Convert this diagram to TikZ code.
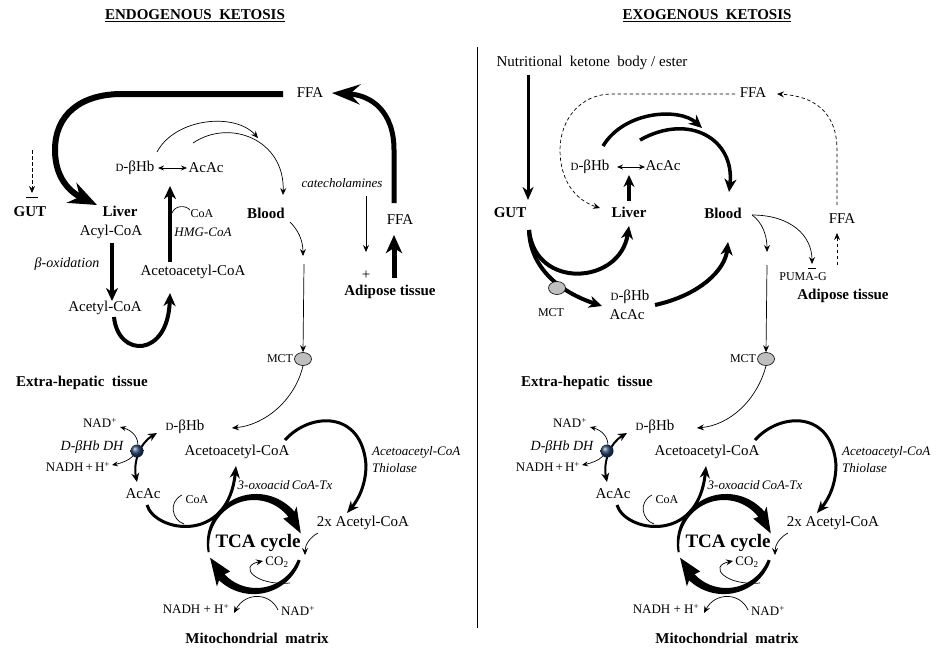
\documentclass[tikz,border=0pt]{standalone}
\usepackage{fontspec}
\setmainfont{Liberation Serif}
\usetikzlibrary{arrows.meta,shapes.geometric}
\newcommand{\myfs}[1]{\fontsize{#1}{#1}\selectfont}
\newcommand{\dbhb}{{\myfs{11}D}-βHb}
\definecolor{ballc}{RGB}{35,65,105}
\tikzset{
 tx/.style={inner sep=0pt, font=\myfs{15}},
 bx/.style={inner sep=0pt, font=\myfs{15}\bfseries},
 sm/.style={inner sep=0pt, font=\myfs{12}},
 sn/.style={inner sep=0pt, font=\myfs{13}},
 itx/.style={inner sep=0pt, font=\myfs{13}\itshape},
 thinar/.style={line width=0.7pt, -{Stealth[length=7pt,width=6pt,inset=2.5pt]}},
 dblar/.style={line width=0.7pt, {Stealth[length=6pt,width=5pt,inset=2pt]}-{Stealth[length=6pt,width=5pt,inset=2pt]}},
 dsh/.style={line width=0.7pt, dash pattern=on 3.5pt off 2.5pt, -{Stealth[length=7pt,width=6pt,inset=2.5pt]}},
 medar/.style={line width=3pt, -{Stealth[length=13pt,width=11pt,inset=4pt]}},
 bigar/.style={line width=4pt, -{Stealth[length=16pt,width=14pt,inset=5pt]}},
 mctball/.style={ellipse, draw, fill=gray!50, minimum width=17pt, minimum height=13pt, inner sep=0pt, line width=0.6pt},
}
% tapered arc round the TCA centre: t0, head base, tip, w0, w1, half head width, body end
\newcommand{\taparc}[7]{%
 \fill plot[smooth,samples=40,domain=#1:#7] ({255+(47+(#4+(#5-#4)*(\x-#1)/(#2-#1))/2)*cos(\x)},{544+(47+(#4+(#5-#4)*(\x-#1)/(#2-#1))/2)*sin(\x)})
   -- plot[smooth,samples=40,domain=#7:#1] ({255+(47-(#4+(#5-#4)*(\x-#1)/(#2-#1))/2)*cos(\x)},{544+(47-(#4+(#5-#4)*(\x-#1)/(#2-#1))/2)*sin(\x)}) -- cycle;
 \fill ({255+(47+#6)*cos(#2)},{544+(47+#6)*sin(#2)}) -- ({255+47*cos(#3)},{544+47*sin(#3)}) -- ({255+(47-#6)*cos(#2)},{544+(47-#6)*sin(#2)}) -- ({255+47*cos(#2+5)},{544+47*sin(#2+5)}) -- cycle;
}
\newcommand{\mitosec}[1]{%
 \node[sn] (#1nadA) at (100,423) {NAD\textsuperscript{+}};
 \node[tx] (#1bhb) at (185,427) {\dbhb};
 \node[inner sep=0pt,font=\myfs{14}\itshape] (#1dh) at (92,447) {D-βHb DH};
 \node[sn] (#1nadhA) at (78,467) {NADH\,+\,H\textsuperscript{+}};
 \node[tx] (#1aacoa) at (237,452) {Acetoacetyl-CoA};
 \node[itx,anchor=west] (#1thA) at (372,452) {Acetoacetyl-CoA};
 \node[itx,anchor=west] (#1thB) at (372,468) {Thiolase};
 \node[tx] (#1acac) at (143,494) {AcAc};
 \node[itx] (#1oxo) at (285,485) {3-oxoacid\,CoA-Tx};
 \node[sm] (#1coa) at (197,500) {CoA};
 \node[tx] (#1twox) at (363,523) {2x Acetyl-CoA};
 \node[inner sep=0pt,font=\myfs{19}\bfseries] (#1tca) at (258,543) {TCA cycle};
 \node[sn] (#1co2) at (277,562) {CO\textsubscript{2}};
 \node[sn] (#1nadhB) at (196,609) {NADH + H\textsuperscript{+}};
 \node[sn] (#1nadB) at (298,611) {NAD\textsuperscript{+}};
 \node[bx] (#1mito) at (257,638) {Mitochondrial\ \ matrix};
 \coordinate (#1a1) at (157,433); \coordinate (#1a2) at (137,482);
 \draw[line width=2pt, {Stealth[length=9pt,width=8pt,inset=3pt]}-{Stealth[length=9pt,width=8pt,inset=3pt]}] (#1a1) .. controls (140,443) and (133,462) .. (#1a2);
 \coordinate (#1b1) at (120,427); \coordinate (#1b2) at (112,465);
 \draw[dblar] (#1b1) .. controls (142,433) and (146,458) .. (#1b2);
 \coordinate (#1ball) at (137,451);
 \shade[ball color=ballc] (#1ball) circle (6.5);
 \coordinate (#1c1) at (147,505); \coordinate (#1c2) at (236,466);
 \draw[line width=3pt, -{Stealth[length=12pt,width=10pt,inset=4pt]}] (#1c1) .. controls (155,532) and (228,545) .. (#1c2);
 \coordinate (#1d1) at (182,495); \coordinate (#1d2) at (184,524);
 \draw[line width=0.7pt] (#1d1) .. controls (168,502) and (172,520) .. (#1d2);
 \coordinate (#1e1) at (285,440); \coordinate (#1e2) at (347,513);
 \draw[line width=3pt, -{Stealth[length=12pt,width=10pt,inset=4pt]}] (#1e1) .. controls (310,412) and (362,410) .. (366,465) .. controls (366,485) and (358,500) .. (#1e2);
 \coordinate (#1f1) at (318,533); \coordinate (#1f2) at (305,555);
 \draw[thinar] (#1f1) .. controls (310,537) and (305,545) .. (#1f2);
 \coordinate (#1g1) at (290,583); \coordinate (#1g2) at (263,561);
 \draw[thinar] (#1g1) .. controls (255,586) and (238,566) .. (#1g2);
 \coordinate (#1h1) at (278,610); \coordinate (#1h2) at (234,613);
 \draw[thinar] (#1h1) .. controls (270,592) and (245,592) .. (#1h2);
 \taparc{170}{318}{347}{2}{8}{9}{324}
 \taparc{20}{132}{163}{3}{8}{10}{138}
}
\begin{document}
\begin{tikzpicture}[x=1pt,y=-1pt]
\useasboundingbox (0,0) rectangle (944,657);
% titles and divider
\node[bx] (t1) at (195,16) {\underline{ENDOGENOUS\ \ KETOSIS}};
\node[bx] (t2) at (707,16) {\underline{EXOGENOUS\ \ KETOSIS}};
\coordinate (dv1) at (477,47); \coordinate (dv2) at (477,628);
\draw[line width=0.8pt] (dv1) -- (dv2);

% ===== left panel top =====
\node[tx] (ffaT) at (310,93) {FFA};
\node[tx] (dbhb1) at (135,168) {\dbhb};
\node[tx] (acac1) at (206,168) {AcAc};
\node[itx] (cat) at (342,183) {catecholamines};
\node[bx] (gut1) at (30,212) {GUT};
\node[bx] (liver1) at (120,211) {Liver};
\node[bx] (blood1) at (266,213) {Blood};
\node[sm] (coa1) at (202,214) {CoA};
\node[tx] (ffaR) at (400,220) {FFA};
\node[tx] (acyl) at (111,232) {Acyl-CoA};
\node[itx] (hmg) at (203,232) {HMG-CoA};
\node[inner sep=0pt,font=\myfs{14}\itshape] (box) at (67,264) {β-oxidation};
\node[tx] (aacoa1) at (193,272) {Acetoacetyl-CoA};
\node[tx] (plus) at (366,275) {+};
\node[bx] (adip1) at (390,292) {Adipose tissue};
\node[tx] (acetyl) at (105,308) {Acetyl-CoA};
\node[sm] (mctl1) at (280,359) {MCT};
\node[mctball] (mct1) at (303,359) {};
\node[bx] (extra1) at (82,383) {Extra-hepatic\ \ tissue};

\coordinate (L1) at (283,94); \coordinate (L2) at (97,205);
\draw[line width=6pt, -{Stealth[length=28pt,width=22pt,inset=9pt]}] (L1) -- (122,94) .. controls (80,94) and (55,115) .. (55,150) .. controls (55,178) and (70,192) .. (L2);
\coordinate (R1) at (394,203); \coordinate (R2) at (332,93);
\draw[line width=5pt, -{Stealth[length=28pt,width=20pt,inset=10pt]}] (R1) -- (394,150) .. controls (394,112) and (372,95) .. (R2);
\coordinate (g1) at (32,150); \coordinate (g2) at (32,193);
\draw[dsh] (g1) -- (g2);
\coordinate (g3) at (26,197); \coordinate (g4) at (38,197);
\draw[line width=0.8pt] (g3) -- (g4);
\coordinate (k1) at (112,243); \coordinate (k2) at (112,301);
\draw[line width=4pt, -{Stealth[length=13pt,width=12pt,inset=4pt]}] (k1) -- (k2);
\coordinate (k3) at (170,262); \coordinate (k4) at (170,186);
\draw[line width=4pt, -{Stealth[length=13pt,width=12pt,inset=4pt]}] (k3) -- (k4);
\coordinate (k5) at (172,213); \coordinate (k6) at (190,210);
\draw[line width=0.7pt] (k5) .. controls (175,205) and (186,205) .. (k6);
\coordinate (k7) at (114,317); \coordinate (k8) at (170,293);
\draw[line width=4pt, -{Stealth[length=13pt,width=12pt,inset=4pt]}] (k7) .. controls (118,358) and (168,358) .. (k8);
\coordinate (m1) at (158,168); \coordinate (m2) at (187,168);
\draw[dblar] (m1) -- (m2);
\coordinate (m3) at (157,152); \coordinate (m4) at (258,138);
\draw[thinar] (m3) .. controls (175,118) and (235,112) .. (m4);
\coordinate (m5) at (193,143); \coordinate (m6) at (283,195);
\draw[thinar] (m5) .. controls (230,118) and (285,140) .. (m6);
\coordinate (m7) at (290,222); \coordinate (m8) at (303,256);
\draw[thinar] (m7) .. controls (298,230) and (303,240) .. (m8);
\coordinate (m9) at (304,264);
\draw[thinar] (m9) -- (mct1.north);
\coordinate (c1) at (366,196); \coordinate (c2) at (366,252);
\draw[thinar] (c1) -- (c2);
\coordinate (c3) at (394,278); \coordinate (c4) at (394,235);
\draw[line width=5pt, -{Stealth[length=18pt,width=16pt,inset=5pt]}] (c3) -- (c4);
\coordinate (x1) at (232,428);
\draw[thinar] (mct1.south) .. controls (295,400) and (265,425) .. (x1);

% ===== left mitochondrion =====
\mitosec{l}

% ===== right panel top =====
\node[tx] (nut) at (592,63) {Nutritional\ \ ketone\ \ body\ /\ ester};
\node[tx] (rffaT) at (753,93) {FFA};
\node[tx] (rbhb) at (590,167) {\dbhb};
\node[tx] (racac) at (663,166) {AcAc};
\node[bx] (rgut) at (510,213) {GUT};
\node[bx] (rliver) at (629,212) {Liver};
\node[bx] (rblood) at (723,213) {Blood};
\node[tx] (rffaR) at (842,219) {FFA};
\node[sm] (puma) at (803,277) {PUMA-G};
\node[bx] (radip) at (843,296) {Adipose tissue};
\node[tx] (rbhb2) at (630,297) {\dbhb};
\node[tx] (racac2) at (627,315) {AcAc};
\node[sm] (rmctl) at (551,313) {MCT};
\node[bx] (rextra) at (587,383) {Extra-hepatic\ \ tissue};
\node[sm] (rmctl2) at (743,359) {MCT};
\node[mctball] (rmct) at (766,359) {};

\coordinate (n1) at (528,75); \coordinate (n2) at (528,200);
\draw[medar] (n1) -- (n2);
\coordinate (d1) at (735,94); \coordinate (d2) at (600,208);
\draw[dsh] (d1) -- (612,94) .. controls (580,94) and (560,120) .. (560,150) .. controls (560,180) and (575,200) .. (d2);
\coordinate (d3) at (837,205); \coordinate (d4) at (777,94);
\draw[dsh] (d3) -- (837,150) .. controls (837,113) and (815,96) .. (d4);
\coordinate (d5) at (837,265); \coordinate (d6) at (837,233);
\draw[dsh] (d5) -- (d6);
\coordinate (e1) at (617,167); \coordinate (e2) at (645,167);
\draw[dblar] (e1) -- (e2);
\coordinate (u1) at (629,201); \coordinate (u2) at (629,175);
\draw[line width=4pt, -{Stealth[length=12pt,width=11pt,inset=4pt]}] (u1) -- (u2);
\coordinate (a1) at (603,146); \coordinate (a2) at (702,128);
\draw[line width=3.5pt, -{Stealth[length=13pt,width=12pt,inset=4pt]}] (a1) .. controls (625,110) and (680,108) .. (a2);
\coordinate (a3) at (640,140); \coordinate (a4) at (729,192);
\draw[line width=3.5pt, -{Stealth[length=13pt,width=12pt,inset=4pt]}] (a3) .. controls (690,112) and (735,140) .. (a4);
\coordinate (b1) at (529,230); \coordinate (b2) at (629,226);
\draw[line width=4pt, -{Stealth[length=13pt,width=12pt,inset=4pt]}] (b1) .. controls (535,290) and (620,285) .. (b2);
\coordinate (b3) at (602,306);
\draw[line width=4pt, -{Stealth[length=13pt,width=12pt,inset=4pt]}] (b1) .. controls (530,268) and (560,292) .. (b3);
\node[mctball] (rmctg) at (557,288) {};
\coordinate (b4) at (655,305); \coordinate (b5) at (728,242);
\draw[line width=4pt, -{Stealth[length=13pt,width=12pt,inset=4pt]}] (b4) .. controls (700,295) and (725,270) .. (b5);
\coordinate (f1) at (752,215); \coordinate (f2) at (767,252);
\draw[thinar] (f1) .. controls (762,222) and (767,235) .. (f2);
\coordinate (f3) at (812,264);
\draw[thinar] (f1) .. controls (790,215) and (812,235) .. (f3);
\coordinate (f4) at (808,268); \coordinate (f5) at (816,268);
\draw[line width=0.8pt] (f4) -- (f5);
\coordinate (f6) at (767,265);
\draw[thinar] (f6) -- (rmct.north);
\coordinate (x2) at (697,428);
\draw[thinar] (rmct.south) .. controls (757,400) and (730,425) .. (x2);

% ===== right mitochondrion =====
\begin{scope}[shift={(470,0)}]
\mitosec{r}
\end{scope}
\end{tikzpicture}
\end{document}
